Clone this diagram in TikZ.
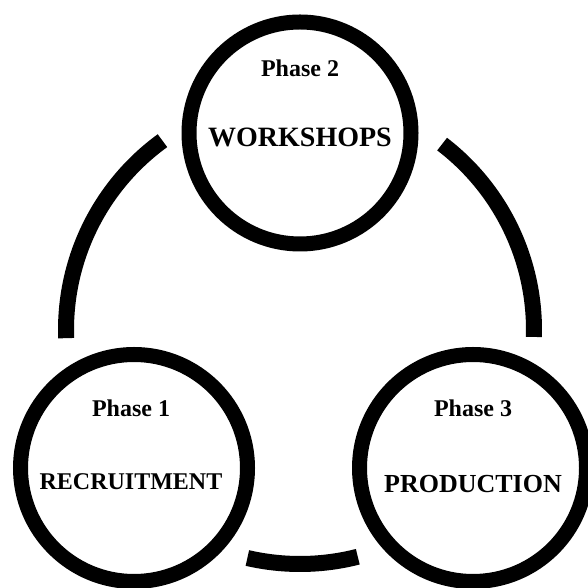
\documentclass[tikz,border=0pt]{standalone}
\usepackage{fontspec}
\setmainfont{Liberation Serif}
\usepackage{tikz}
\usetikzlibrary{positioning}

\tikzset{
  ring/.style={circle, draw=black, line width=15pt, minimum size=#1, inner sep=0pt},
  link/.style={draw=black, line width=16pt},
  stage/.style={inner sep=0pt, font=\bfseries\fontsize{24}{26}\selectfont},
  title/.style={inner sep=0pt, font=\bfseries\fontsize{#1}{#1}\selectfont}
}

\begin{document}
\begin{tikzpicture}[x=1pt,y=1pt]
\useasboundingbox (0,0) rectangle (587,588);
% the three phases
\node [ring=222pt] (work) at (300,455) {};
\node [ring=227pt] (recr) at (134,120) {};
\node [ring=227pt] (prod) at (473,120) {};
\node [stage] (work-n) at (300,520) {Phase 2};
\node [title=28] (work-t) at (300,451) {WORKSHOPS};
\node [stage] (recr-n) at (131,180) {Phase 1};
\node [title=24] (recr-t) at (131,106) {RECRUITMENT};
\node [stage] (prod-n) at (473,180) {Phase 3};
\node [title=26] (prod-t) at (473,104) {PRODUCTION};
% the cycle between them
\coordinate (hub) at (300,258);
\draw [link] ([shift={(hub)}]126:234) arc [start angle=126, end angle=182, radius=234];
\draw [link] ([shift={(hub)}]52.6:234) arc [start angle=52.6, end angle=-1.7, radius=234];
\draw [link] ([shift={(hub)}]-103:234) arc [start angle=-103, end angle=-75.7, radius=234];
\end{tikzpicture}
\end{document}
